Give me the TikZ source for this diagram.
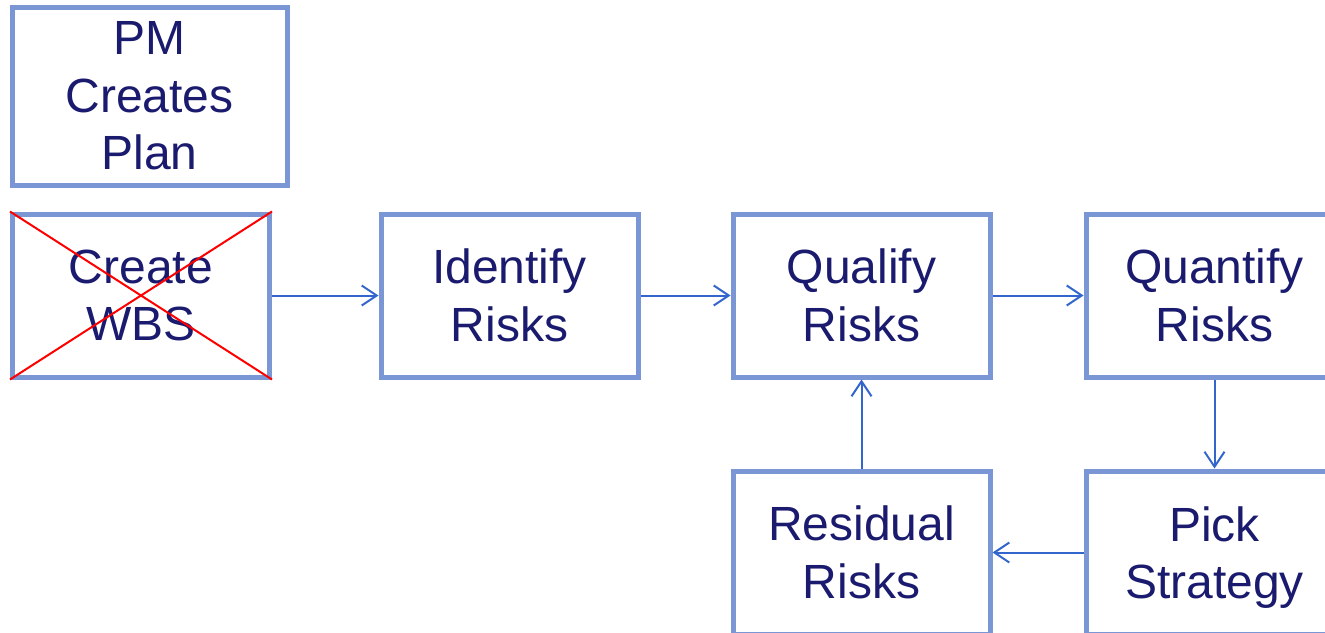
\documentclass[tikz,border=0pt]{standalone}
\usepackage{fontspec}
\setmainfont{Liberation Sans}
\usetikzlibrary{positioning, arrows.meta}
\definecolor{boxblue}{RGB}{123,150,212}
\definecolor{textnavy}{RGB}{26,26,110}
\definecolor{arrowblue}{RGB}{51,102,204}

\begin{document}
\begin{tikzpicture}[
    x=1pt, y=-1pt,
    node distance=352pt,
    on grid,
    step box/.style={draw=boxblue, line width=5pt, fill=white,
        minimum width=257pt, minimum height=163pt, align=center,
        text=textnavy, font=\fontsize{48}{57.5}\selectfont},
    flow/.style={draw=arrowblue, line width=2pt,
        -{Straight Barb[length=15pt, width=20pt, line width=2pt]}}
]
   \useasboundingbox (0,0) rectangle (1325,632);
   \clip (0,0) rectangle (1325,632);

   % Boxes
   \node[step box, minimum width=275pt, minimum height=178pt] (plan) at (149.5,96) {PM\\Creates\\Plan};
   \node[step box] (wbs) at (141,295.5) {Create\\WBS};
   \node[step box] (identify) at (509.5,295.5) {Identify\\Risks};
   \node[step box] (qualify) [right=of identify] {Qualify\\Risks};
   \node[step box] (quantify) [right=353pt of qualify] {Quantify\\Risks};
   \node[step box] (pick) [below=257pt of quantify] {Pick\\\smash{Strategy}};
   \node[step box] (residual) [below=257pt of qualify] {Residual\\Risks};

   % Crossed out
   \draw[red, line width=2pt] (wbs.north west) -- (wbs.south east)
                              (wbs.north east) -- (wbs.south west);

   % Flow
   \draw[flow] (wbs) -- (identify);
   \draw[flow] (identify) -- (qualify);
   \draw[flow] (qualify) -- (quantify);
   \draw[flow] (quantify) -- (pick);
   \draw[flow] (pick) -- (residual);
   \draw[flow] (residual) -- (qualify);
\end{tikzpicture}
\end{document}
